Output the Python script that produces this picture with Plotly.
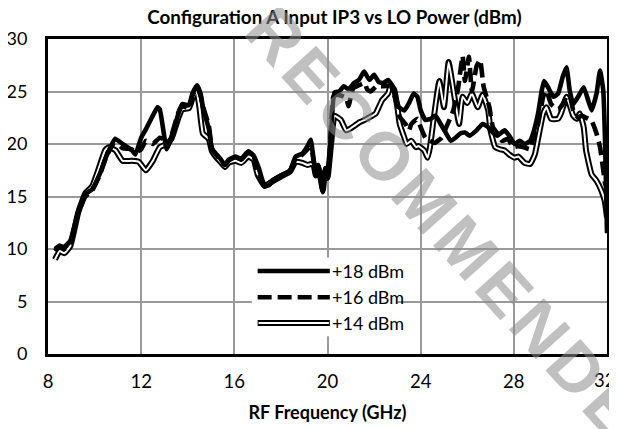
import plotly.graph_objects as go

# ---- data ----
x18 = [8.3, 8.5, 8.7, 8.96, 9.3, 9.6, 9.9, 10.25, 10.5, 10.88, 11.2, 11.6, 11.75, 12.0, 12.2, 12.5, 12.7, 12.8, 13.0, 13.1,
       13.3, 13.6, 13.76, 14.05, 14.2, 14.4, 14.55, 14.68, 14.9, 15.04, 15.2, 15.4, 15.6, 15.75, 16.04, 16.3, 16.6, 16.83,
       17.05, 17.3, 17.5, 17.7, 18.0, 18.4, 18.63, 18.92, 19.14, 19.28, 19.4, 19.5, 19.6, 19.7, 19.8, 19.9, 20.0, 20.1, 20.3,
       20.5, 20.7, 20.9, 21.14, 21.35, 21.57, 21.8, 22.0, 22.2, 22.4, 22.6, 22.8, 22.9, 23.07, 23.3, 23.5, 23.7, 23.86, 24.0,
       24.2, 24.43, 24.64, 24.86, 25.07, 25.29, 25.5, 25.7, 25.9, 26.1, 26.4, 26.66, 26.9, 27.1, 27.3, 27.6, 27.8, 28.03,
       28.25, 28.46, 28.7, 28.8, 29.04, 29.2, 29.3, 29.47, 29.7, 29.9, 30.1, 30.26, 30.4, 30.55, 30.76, 31.0, 31.2, 31.34,
       31.55, 31.7, 31.84, 31.92, 32.0]
y18 = [10.0, 10.3, 10.2, 10.8, 13.6, 15.2, 15.7, 17.3, 18.8, 20.5, 20.0, 19.4, 19.0, 20.6, 21.4, 22.7, 23.5, 23.3, 20.6, 19.5,
       20.6, 22.9, 23.8, 23.7, 24.8, 25.6, 24.8, 23.2, 21.5, 19.5, 19.1, 18.6, 18.0, 18.5, 18.8, 18.6, 19.3, 18.9,
       17.7, 16.0, 16.1, 16.6, 17.0, 17.5, 18.8, 19.1, 19.8, 20.4, 18.6, 17.0, 18.0, 16.7, 15.4, 17.7, 16.7, 19.0, 24.9,
       25.0, 25.5, 25.2, 25.8, 26.1, 26.9, 26.1, 26.6, 25.9, 25.8, 26.1, 25.5, 24.7, 23.5, 23.2, 23.9, 24.8, 24.5, 23.2,
       22.3, 22.4, 22.7, 21.9, 21.1, 20.3, 20.6, 21.0, 21.1, 20.8, 21.3, 21.9, 21.6, 21.1, 20.8, 21.3, 20.8, 20.0,
       20.3, 20.0, 20.3, 20.8, 22.9, 25.1, 26.0, 25.4, 24.5, 24.8, 26.4, 27.3, 25.1, 23.8, 24.5, 25.4, 24.1, 23.2,
       24.8, 27.0, 25.1, 20.0, 11.5]

x16 = [8.3, 8.5, 8.7, 8.96, 9.3, 9.6, 9.9, 10.25, 10.5, 10.88, 11.2, 11.6, 11.75, 12.0, 12.2, 12.5, 12.8, 13.0, 13.1, 13.3,
       13.6, 13.76, 14.05, 14.2, 14.4, 14.55, 14.68, 14.9, 15.04, 15.2, 15.4, 15.6, 15.75, 16.04, 16.3, 16.6, 16.83, 17.0,
       17.3, 17.6, 18.0, 18.4, 18.63, 18.92, 19.14, 19.28, 19.4, 19.5, 19.6, 19.7, 19.8, 19.9, 20.0, 20.1, 20.25, 20.4,
       20.8, 20.9, 21.1, 21.35, 21.6, 21.7, 21.85, 22.1, 22.4, 22.7, 22.9, 23.1, 23.35, 23.5, 23.6, 23.86, 24.0, 24.2,
       24.4, 24.6, 24.9, 25.1, 25.4, 25.6, 25.8, 25.9, 26.07, 26.2, 26.4, 26.55, 26.7, 26.95, 27.1, 27.3, 27.5, 27.75,
       27.96, 28.2, 28.4, 28.7, 28.8, 29.04, 29.26, 29.4, 29.6, 29.9, 30.1, 30.26, 30.4, 30.55, 30.76, 30.9, 31.1,
       31.34, 31.55, 31.7, 31.84, 31.92, 32.0]
y16 = [9.8, 10.3, 10.0, 10.6, 13.4, 15.0, 15.6, 17.2, 18.8, 20.2, 19.6, 19.5, 19.2, 19.5, 20.3, 20.0, 20.6, 20.4, 19.6, 20.8,
       23.0, 23.6, 23.4, 24.6, 25.4, 24.6, 23.4, 21.8, 19.6, 19.0, 18.5, 18.0, 18.4, 18.8, 18.5, 19.2, 18.8, 17.4,
       16.1, 16.5, 17.0, 17.5, 18.6, 19.0, 19.5, 19.8, 18.5, 17.2, 18.0, 16.9, 15.6, 17.5, 16.9, 19.2, 24.5, 24.7,
       24.4, 23.6, 25.3, 25.6, 25.8, 25.2, 25.0, 25.5, 25.5, 25.6, 24.4, 22.6, 21.9, 21.3, 21.9, 22.4, 21.6, 20.6,
       20.3, 20.1, 20.6, 21.6, 23.2, 25.2, 28.4, 26.0, 28.3, 25.0, 27.4, 28.0, 25.5, 23.5, 21.6, 21.0, 20.3, 20.5,
       19.7, 19.8, 19.7, 19.5, 20.3, 21.9, 24.5, 25.1, 23.8, 23.3, 23.8, 24.5, 24.6, 23.2, 22.5, 22.7, 22.5,
       22.2, 21.0, 19.7, 17.5, 16.2, 15.8]

x14 = [8.3, 8.5, 8.7, 8.96, 9.3, 9.6, 9.9, 10.2, 10.45, 10.6, 10.9, 11.2, 11.6, 11.9, 12.2, 12.5, 12.8, 13.1, 13.3, 13.6,
       13.76, 14.05, 14.2, 14.38, 14.5, 14.65, 14.9, 15.04, 15.2, 15.4, 15.6, 15.75, 16.04, 16.3, 16.6, 16.83, 17.0, 17.3,
       17.6, 18.0, 18.4, 18.63, 18.92, 19.14, 19.28, 19.4, 19.5, 19.6, 19.7, 19.8, 19.9, 20.0, 20.1, 20.2, 20.3, 20.57,
       20.8, 21.0, 21.2, 21.4, 21.6, 21.85, 22.07, 22.2, 22.35, 22.6, 22.7, 22.86, 23.0, 23.1, 23.3, 23.4, 23.6, 23.8,
       23.9, 24.15, 24.3, 24.4, 24.57, 24.8, 25.0, 25.2, 25.45, 25.65, 25.8, 26.0, 26.2, 26.45, 26.66, 26.9, 27.0, 27.2,
       27.4, 27.6, 27.8, 28.03, 28.2, 28.46, 28.7, 28.9, 29.04, 29.26, 29.4, 29.6, 29.9, 30.04, 30.26, 30.4, 30.55,
       30.7, 30.83, 31.0, 31.1, 31.34, 31.55, 31.77, 31.9, 32.0]
y14 = [9.0, 9.8, 9.6, 10.3, 13.5, 15.3, 16.0, 17.8, 19.4, 19.7, 19.4, 18.4, 18.4, 18.3, 17.5, 18.4, 19.7, 20.0, 20.5, 22.5,
       23.3, 23.4, 24.3, 25.0, 23.5, 21.0, 20.5, 19.3, 18.8, 18.3, 17.8, 18.2, 18.4, 18.2, 18.8, 18.5, 17.1, 16.0,
       16.4, 16.9, 17.4, 18.3, 18.2, 18.0, 18.1, 18.0, 17.0, 17.8, 16.8, 15.6, 17.4, 16.8, 18.8, 21.0, 22.7, 22.3,
       21.3, 21.5, 21.8, 22.1, 22.3, 22.6, 22.9, 23.5, 24.2, 24.8, 25.5, 25.2, 23.5, 21.9, 20.6, 20.0, 20.3, 19.7,
       19.8, 19.4, 18.7, 19.7, 22.6, 26.0, 23.5, 27.8, 24.5, 21.9, 24.5, 23.9, 24.8, 23.5, 24.7, 23.2, 21.3, 19.7,
       19.5, 19.4, 19.0, 18.7, 18.8, 18.2, 18.1, 19.0, 20.5, 22.9, 23.5, 22.4, 22.4, 23.0, 24.5, 23.7, 22.7,
       22.4, 22.9, 21.6, 19.4, 17.1, 16.5, 15.5, 14.6, 13.0]

series_names = ["+18 dBm", "+16 dBm", "+14 dBm"]
x_ticks = [8, 12, 16, 20, 24, 28, 32]
x_ticktext = ["8", "12", "16", "20", "24", "28", "32"]
y_ticks = [0, 5, 10, 15, 20, 25, 30]
watermark_text = "NOT RECOMMENDED"

FONT = "Lato"
W_MAIN = 4.6
W_OUT, W_IN = 6.0, 2.0
FIG_W, FIG_H = 609, 421  # page body has an 8px margin inside the 617x429 window

fig = go.Figure()
# +14 dBm double line (black outline with white core)
fig.add_trace(go.Scatter(x=x14, y=y14, mode="lines", name=series_names[2], showlegend=False,
                         line=dict(color="black", width=W_OUT, shape="spline", smoothing=0.4)))
fig.add_trace(go.Scatter(x=x14, y=y14, mode="lines", showlegend=False, hoverinfo="skip",
                         line=dict(color="white", width=W_IN, shape="spline", smoothing=0.4)))
# +16 dBm dashed
fig.add_trace(go.Scatter(x=x16, y=y16, mode="lines", name=series_names[1], showlegend=False,
                         line=dict(color="black", width=W_MAIN, dash="14px,6px", shape="spline", smoothing=0.4)))
# +18 dBm solid
fig.add_trace(go.Scatter(x=x18, y=y18, mode="lines", name=series_names[0], showlegend=False,
                         line=dict(color="black", width=W_MAIN, shape="spline", smoothing=0.4)))

shapes = []
# legend background (covers gridlines)
shapes.append(dict(type="rect", xref="x", yref="y", x0=16.75, x1=23.0, y0=1.7, y1=9.2,
                   fillcolor="white", line=dict(width=0), layer="between"))
leg_y = [7.9, 5.4, 2.95]
lx0, lx1 = 17.0, 20.1
shapes.append(dict(type="line", xref="x", yref="y", x0=lx0, x1=lx1, y0=leg_y[0], y1=leg_y[0],
                   line=dict(color="black", width=W_MAIN)))
shapes.append(dict(type="line", xref="x", yref="y", x0=lx0, x1=lx1, y0=leg_y[1], y1=leg_y[1],
                   line=dict(color="black", width=W_MAIN, dash="14px,6px")))
shapes.append(dict(type="line", xref="x", yref="y", x0=lx0, x1=lx1, y0=leg_y[2], y1=leg_y[2],
                   line=dict(color="black", width=W_OUT)))
shapes.append(dict(type="line", xref="x", yref="y", x0=lx0 + 0.04, x1=lx1 - 0.04, y0=leg_y[2], y1=leg_y[2],
                   line=dict(color="white", width=W_IN)))

annotations = []
for name, yy in zip(series_names, leg_y):
    annotations.append(dict(x=lx1 + 0.02, y=yy, xref="x", yref="y", text=name, showarrow=False,
                            xanchor="left", yanchor="middle",
                            font=dict(family=FONT, size=18, color="black")))
# last x tick label kept inside the page (right-aligned at the figure edge)
annotations.append(dict(x=x_ticks[-1], y=0, xref="x", yref="paper", text=x_ticktext[-1], showarrow=False,
                        xanchor="right", yanchor="top", xshift=10, yshift=-13,
                        font=dict(family=FONT, size=18.5, color="black")))
# watermark (letter-spaced with hair spaces)
wm = "\u200a".join(list(watermark_text))
annotations.append(dict(x=0.63, y=0.575, xref="paper", yref="paper", text="<b>" + wm + "</b>",
                        showarrow=False, textangle=48, xanchor="center", yanchor="middle",
                        font=dict(family="Liberation Sans", size=68, color="rgba(140,140,140,0.55)")))

fig.update_layout(
    width=FIG_W, height=FIG_H,
    margin=dict(l=40, r=10, t=31, b=75, autoexpand=False),
    paper_bgcolor="white", plot_bgcolor="white",
    title=dict(text="<b>Configuration A Input IP3 vs LO Power (dBm)</b>", x=0.536, xanchor="center",
               y=1 - 9.5 / FIG_H, yref="container", yanchor="middle", automargin=False,
               font=dict(family=FONT, size=18.8, color="black")),
    shapes=shapes, annotations=annotations,
    showlegend=False,
)
fig.update_xaxes(range=[8, 32], tickvals=x_ticks, ticktext=x_ticktext[:-1] + [""],
                 showgrid=True, gridcolor="#9a9a9a", gridwidth=1.5,
                 showline=True, linecolor="black", linewidth=3, mirror=True, zeroline=False, automargin=False,
                 ticks="", ticklabelstandoff=9, tickfont=dict(family=FONT, size=18.5, color="black"),
                 title=dict(text="<b>RF Frequency (GHz)</b>", font=dict(family=FONT, size=18, color="black"),
                            standoff=16))
fig.update_yaxes(range=[0, 30], tickvals=y_ticks, showgrid=True, gridcolor="#9a9a9a", gridwidth=1.5,
                 showline=True, linecolor="black", linewidth=3, mirror=True, zeroline=False, automargin=False,
                 ticks="", ticklabelstandoff=14, ticklabeloverflow="allow",
                 tickfont=dict(family=FONT, size=18, color="black"))

fig.write_html("out.html")
